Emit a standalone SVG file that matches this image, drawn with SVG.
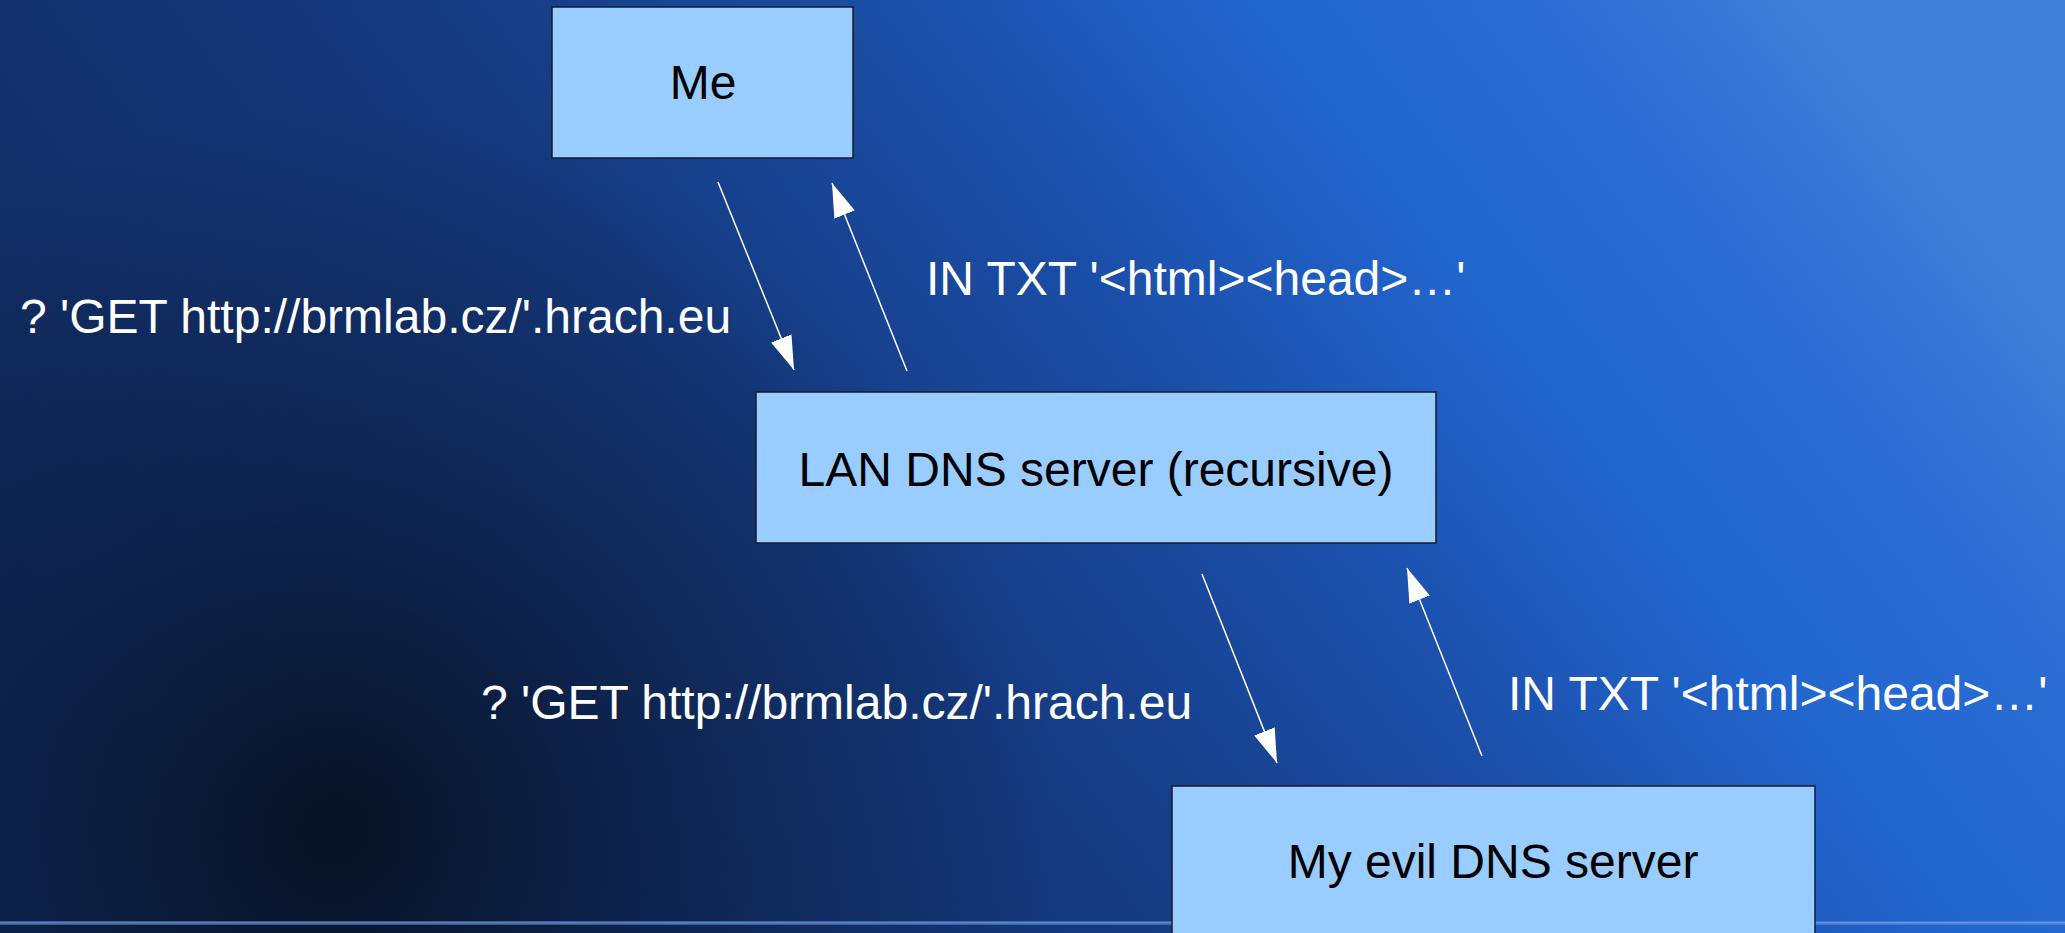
<svg xmlns="http://www.w3.org/2000/svg" width="2065" height="933" viewBox="0 0 2065 933">
<defs>
<linearGradient id="bg" x1="0" y1="0.7" x2="1" y2="0.35">
<stop offset="0" stop-color="#10285a"/>
<stop offset="0.4" stop-color="#153a80"/>
<stop offset="0.6" stop-color="#1b4ea8"/>
<stop offset="0.76" stop-color="#2266d0"/>
<stop offset="0.88" stop-color="#2a6cd4"/>
<stop offset="1" stop-color="#3f80d8"/>
</linearGradient>
<radialGradient id="dark" cx="336" cy="830" r="720" gradientUnits="userSpaceOnUse">
<stop offset="0" stop-color="#07101f" stop-opacity="0.95"/>
<stop offset="0.5" stop-color="#0a1a38" stop-opacity="0.5"/>
<stop offset="1" stop-color="#0a1a38" stop-opacity="0"/>
</radialGradient>
<marker id="ah" markerWidth="34" markerHeight="22" refX="34" refY="11" orient="auto" markerUnits="userSpaceOnUse">
<path d="M0,0 L34,11 L0,22 z" fill="#ffffff"/>
</marker>
<style>
.box{fill:#99ccff;stroke:#1a1a2a;stroke-width:1.5}
.bt{font-family:"Liberation Sans",Arial,sans-serif;font-size:48px;fill:#000;text-anchor:middle}
.lbl{font-family:"Liberation Sans",Arial,sans-serif;font-size:48px;fill:#fff}
.con{stroke:#fff;stroke-width:1.5;fill:none;marker-end:url(#ah)}
</style>
</defs>
<rect x="0" y="0" width="2065" height="933" fill="url(#bg)"/>
<rect x="0" y="0" width="2065" height="933" fill="url(#dark)"/>
<rect x="0" y="921" width="2065" height="4" fill="#5c8cd4" opacity="0.55"/>
<rect x="0" y="922" width="2065" height="1.5" fill="#8cb4ec" opacity="0.45"/>
<g id="connectors">
<line class="con" x1="718" y1="182" x2="794" y2="370"/>
<line class="con" x1="907" y1="371" x2="832" y2="183"/>
<line class="con" x1="1202" y1="574" x2="1277" y2="763"/>
<line class="con" x1="1482" y1="756" x2="1407" y2="568"/>
</g>
<g id="node-me">
<rect class="box" x="552" y="7" width="301" height="151"/>
<text class="bt" x="703" y="99">Me</text>
</g>
<g id="node-lan">
<rect class="box" x="756" y="392" width="680" height="151"/>
<text class="bt" x="1096" y="486">LAN DNS server (recursive)</text>
</g>
<g id="node-evil">
<rect class="box" x="1172" y="786" width="643" height="160"/>
<text class="bt" x="1493" y="878">My evil DNS server</text>
</g>
<g id="labels">
<text class="lbl" x="20" y="333">? 'GET http://brmlab.cz/'.hrach.eu</text>
<text class="lbl" x="926" y="295">IN TXT '&lt;html&gt;&lt;head&gt;…'</text>
<text class="lbl" x="481" y="719">? 'GET http://brmlab.cz/'.hrach.eu</text>
<text class="lbl" x="1508" y="710">IN TXT '&lt;html&gt;&lt;head&gt;…'</text>
</g>
</svg>
